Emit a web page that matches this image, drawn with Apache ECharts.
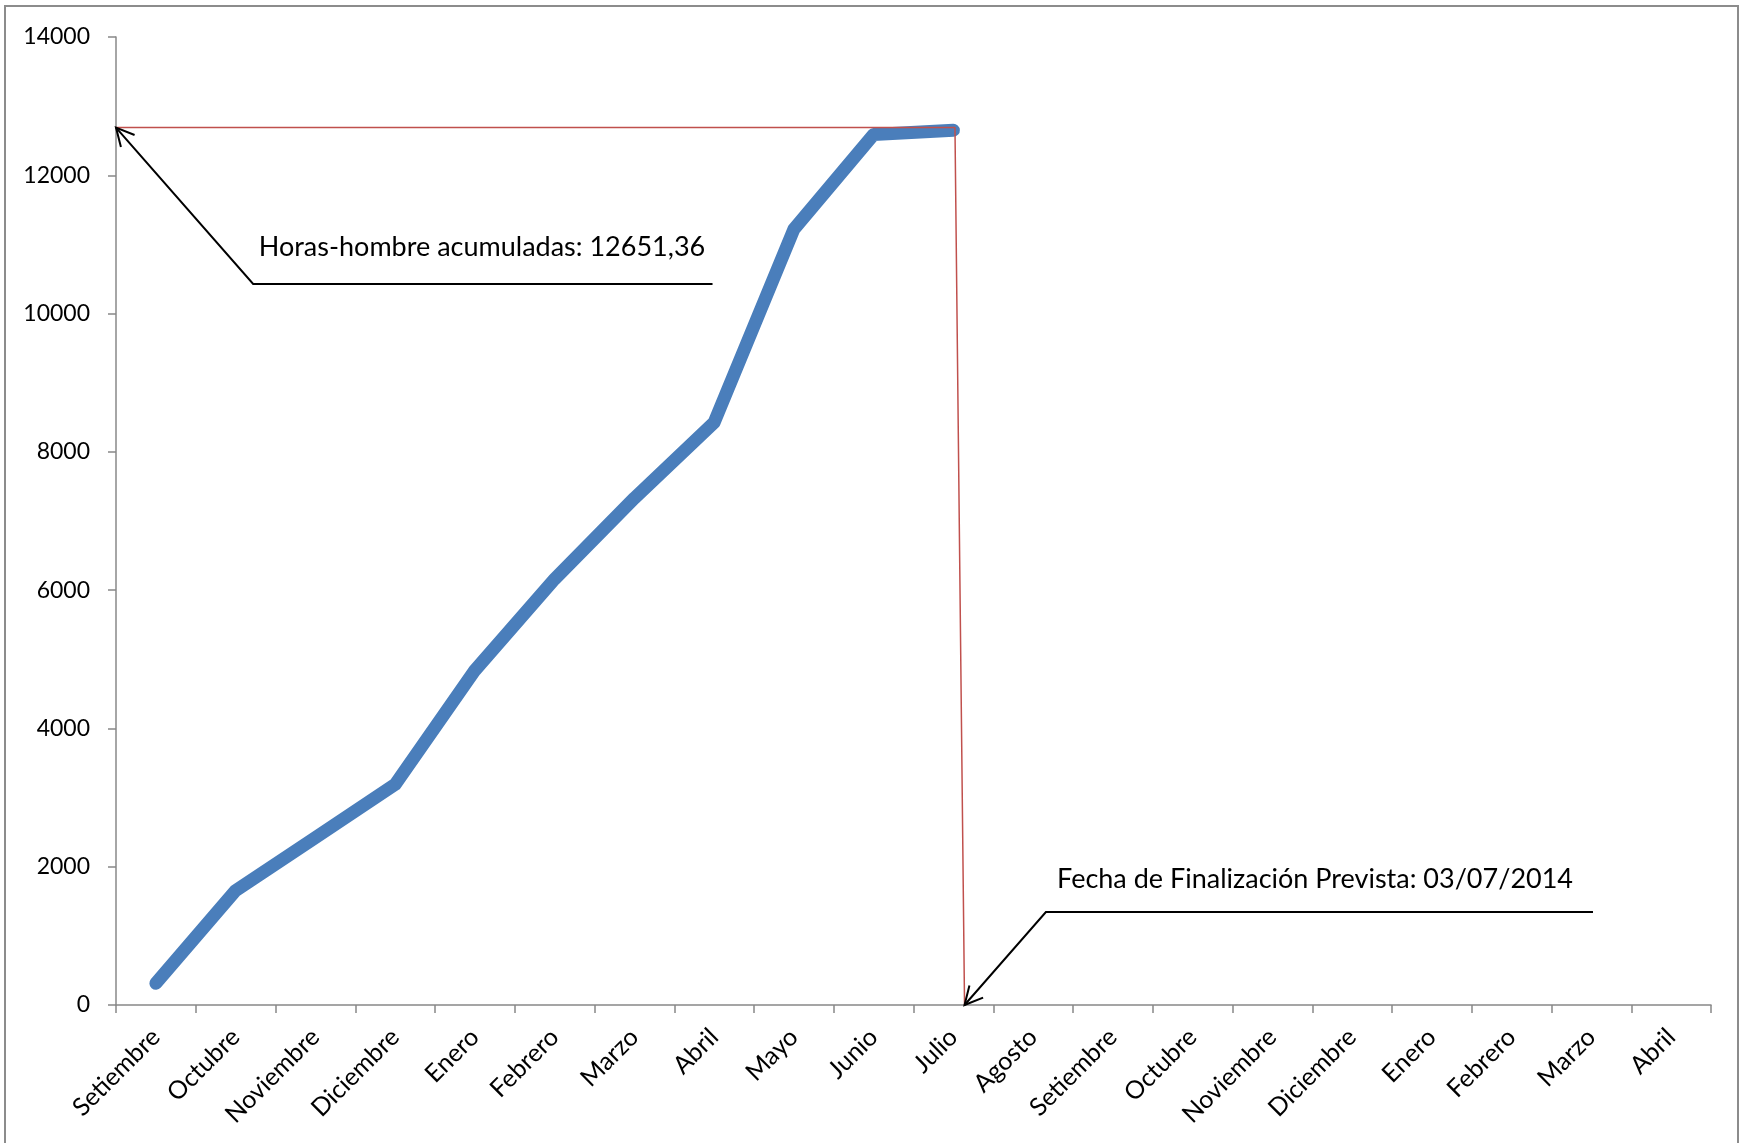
<!DOCTYPE html>
<html>
<head>
<meta charset="utf-8">
<script src="https://cdn.jsdelivr.net/npm/echarts@6/dist/echarts.min.js"></script>
<style>
  html, body { margin: 0; padding: 0; background: #ffffff; }
  #chart { width: 1741px; height: 1143px; }
</style>
</head>
<body>
<div id="chart"></div>
<script>
// ---- Data ----
const months = ['Setiembre', 'Octubre', 'Noviembre', 'Diciembre', 'Enero', 'Febrero', 'Marzo', 'Abril',
                'Mayo', 'Junio', 'Julio', 'Agosto', 'Setiembre', 'Octubre', 'Noviembre', 'Diciembre',
                'Enero', 'Febrero', 'Marzo', 'Abril'];
const horasAcumuladas = [314, 1655, 2420, 3190, 4840, 6160, 7330, 8425, 11220, 12590, 12651.36];
const yTicks = [0, 2000, 4000, 6000, 8000, 10000, 12000, 14000];
// Reference (red) line: horizontal level up to the finish date, then down to the axis
const finishLine = [[0, 12690], [10.52, 12690], [10.64, 0]];
const annotationTexts = ['Horas-hombre acumuladas: 12651,36', 'Fecha de Finalización Prevista: 03/07/2014'];

// ---- Annotation geometry (in axis units: x = category position, y = value) ----
const annotations = [
  { text: annotationTexts[0], tip: [0, 12690], knee: [1.72, 10428], end: [7.48, 10428], label: [1.79, 10960] },
  { text: annotationTexts[1], tip: [10.64, 0], knee: [11.66, 1345], end: [18.52, 1345], label: [11.80, 1822] }
];

const chart = echarts.init(document.getElementById('chart'), null, { renderer: 'canvas' });
const FONT = 'Lato, "Liberation Sans", sans-serif';
const AXIS_GRAY = '#888888';

function arrowHead(tip, from, len, angDeg) {
  const dx = from[0] - tip[0], dy = from[1] - tip[1];
  const base = Math.atan2(dy, dx);
  const a = angDeg * Math.PI / 180;
  return [
    [tip[0] + len * Math.cos(base + a), tip[1] + len * Math.sin(base + a)],
    [tip[0], tip[1]],
    [tip[0] + len * Math.cos(base - a), tip[1] + len * Math.sin(base - a)]
  ];
}

const option = {
  backgroundColor: '#ffffff',
  animation: false,
  grid: { left: 116, right: 30, top: 37, bottom: 138, containLabel: false },
  xAxis: [
    {
      type: 'category',
      data: months,
      boundaryGap: true,
      axisLine: { lineStyle: { color: AXIS_GRAY, width: 1.5 } },
      axisTick: { show: true, length: 8, inside: false, lineStyle: { color: AXIS_GRAY, width: 1.5 } },
      axisLabel: { interval: 0, rotate: 45, margin: 28, color: '#000', fontSize: 25, fontFamily: FONT },
      splitLine: { show: false }
    },
    { type: 'value', min: 0, max: 20, show: false, position: 'bottom' }
  ],
  yAxis: {
    type: 'value',
    min: yTicks[0],
    max: yTicks[yTicks.length - 1],
    interval: yTicks[1] - yTicks[0],
    axisLine: { show: true, lineStyle: { color: AXIS_GRAY, width: 1.5 } },
    axisTick: { show: true, length: 8, lineStyle: { color: AXIS_GRAY, width: 1.5 } },
    axisLabel: { margin: 26, color: '#000', fontSize: 23, fontFamily: FONT,
                 formatter: function (v) { return String(v); } },
    splitLine: { show: false }
  },
  graphic: [
    { type: 'rect', silent: true, shape: { x: 5, y: 6, width: 1733, height: 1150 },
      style: { fill: 'none', stroke: '#8c8c8c', lineWidth: 2 } }
  ],
  series: [
    {
      name: 'Horas-hombre acumuladas',
      type: 'line',
      xAxisIndex: 0,
      data: horasAcumuladas,
      symbol: 'none',
      smooth: false,
      lineStyle: { color: '#4a7ebb', width: 13, cap: 'round', join: 'round' },
      z: 2
    },
    {
      name: 'Fin',
      type: 'line',
      xAxisIndex: 1,
      data: finishLine,
      symbol: 'none',
      lineStyle: { color: '#c0504d', width: 1.5 },
      z: 3
    },
    {
      name: 'Anotaciones',
      type: 'custom',
      xAxisIndex: 1,
      yAxisIndex: 0,
      z: 4,
      data: annotations.map((a, i) => [a.tip[0], a.tip[1], i]),
      renderItem: function (params, api) {
        const a = annotations[api.value(2)];
        const tip = api.coord(a.tip);
        const knee = api.coord(a.knee);
        const end = api.coord(a.end);
        const lab = api.coord(a.label);
        return {
          type: 'group',
          children: [
            { type: 'polyline', shape: { points: [tip, knee, end] },
              style: { stroke: '#000', lineWidth: 2, fill: null } },
            { type: 'polyline', shape: { points: arrowHead(tip, knee, 20, 27) },
              style: { stroke: '#000', lineWidth: 2, fill: null } },
            { type: 'text', x: lab[0], y: lab[1],
              style: { text: a.text, fill: '#000', font: '27px ' + FONT, align: 'left', verticalAlign: 'middle' } }
          ]
        };
      }
    }
  ]
};
chart.setOption(option);
</script>
</body>
</html>
